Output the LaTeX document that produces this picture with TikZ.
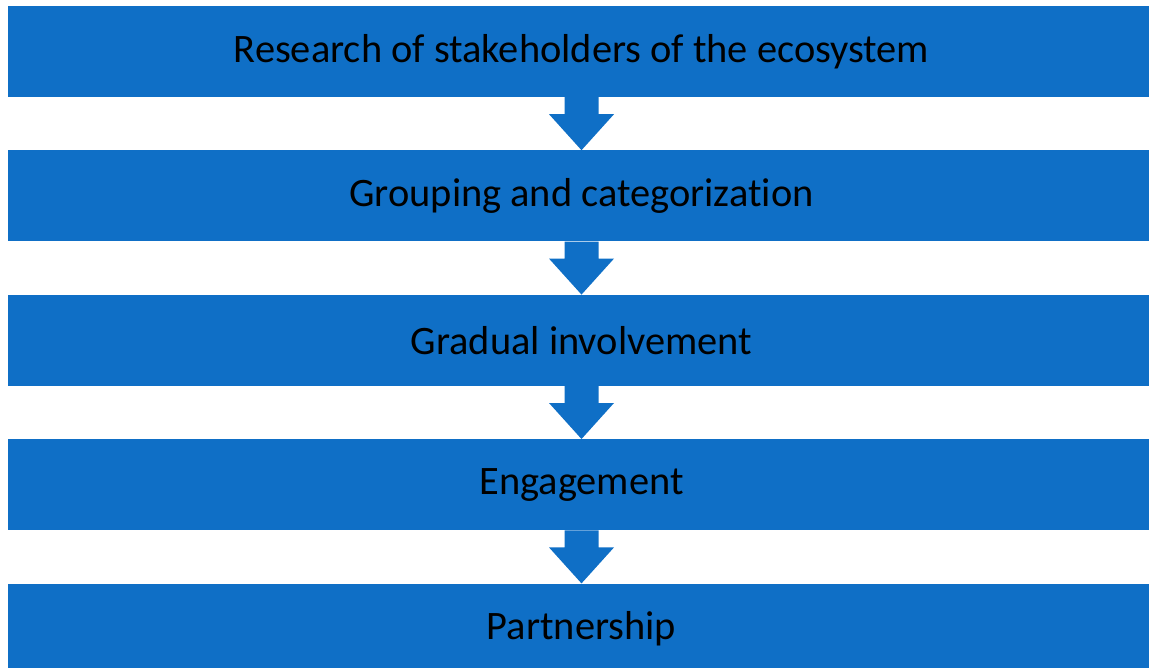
\documentclass[tikz,border=0pt]{standalone}
\usepackage{fontspec}
\setmainfont{Carlito}[RawFeature=-liga]
\usetikzlibrary{positioning,calc}

\definecolor{stepblue}{RGB}{15,111,198}

\begin{document}
\begin{tikzpicture}[x=1pt, y=1pt, node distance=53pt,
		every node/.style={rectangle, fill=stepblue, text=black, minimum width=1147pt, minimum height=91pt, inner sep=0pt, font=\fontsize{40.4}{44}\selectfont},
		flowarrow/.style={fill=stepblue}]
			\useasboundingbox (0,0) rectangle (1149,-668);
			\node (b1) at (581.5,-51.5){Research of stakeholders of the ecosystem};
			\node[below=of b1] (b2){Grouping and categorization};
			\node[below=of b2] (b3){Gradual involvement};
			\node[below=of b3] (b4){Engagement};
			\node[below=of b4] (b5){Partnership};
			
			\foreach \a/\b in {b1/b2, b2/b3, b3/b4, b4/b5}
				\fill[flowarrow] ($(\a.south)+(-17,0)$) -- ($(\a.south)+(-17,-17)$) -- ($(\a.south)+(-32.5,-17)$) -- (\b.north)
					-- ($(\a.south)+(32.5,-17)$) -- ($(\a.south)+(17,-17)$) -- ($(\a.south)+(17,0)$) -- cycle;
			\end{tikzpicture}
\end{document}
